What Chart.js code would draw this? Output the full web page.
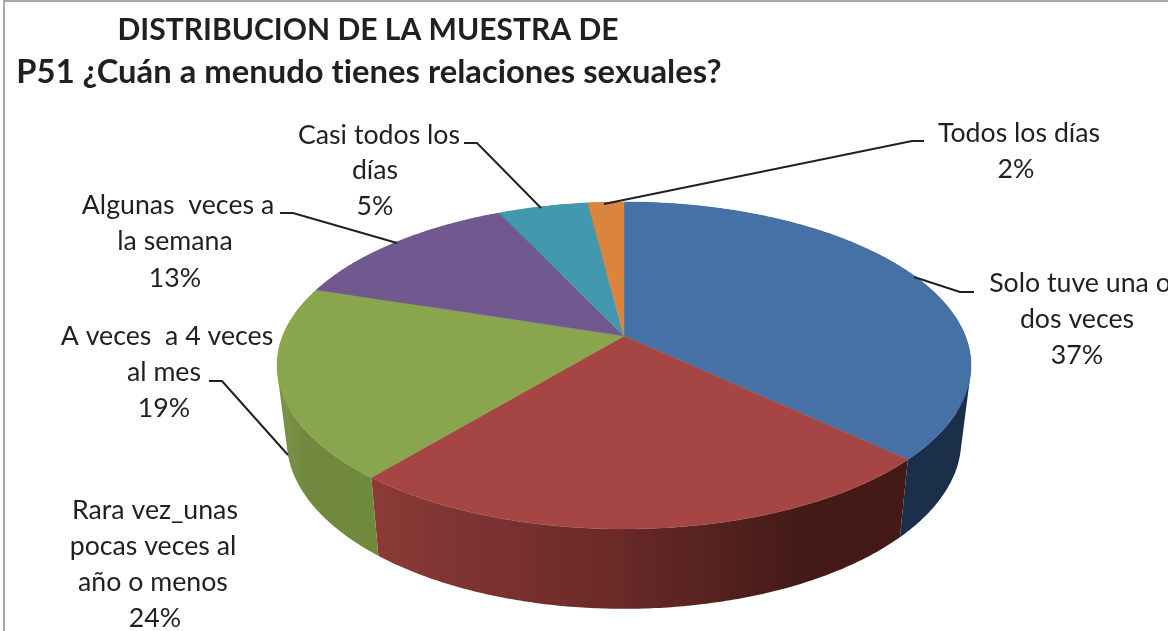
<!DOCTYPE html>
<html><head><meta charset="utf-8">
<style>html,body{margin:0;padding:0;background:#fff}#w{width:1168px;height:631px;position:relative;overflow:hidden}</style>
<script src="https://cdn.jsdelivr.net/npm/chart.js@4"></script>
</head><body><div id="w"><canvas id="c" width="1168" height="631"></canvas></div>
<script>
const categories=["Solo tuve una o dos veces","Rara vez_unas pocas veces al año o menos","A veces  a 4 veces al mes","Algunas  veces a la semana","Casi todos los días","Todos los días"];
const values=[37,24,19,13,5,2];
const titleLine="DISTRIBUCION DE LA MUESTRA DE";
const subtitleLine="P51 ¿Cuán a menudo tienes relaciones sexuales?";
const labelLines=[["Solo tuve una o","dos veces","37%"],["Rara vez_unas","pocas veces al","año o menos","24%"],["A veces  a 4 veces","al mes","19%"],["Algunas  veces a","la semana","13%"],["Casi todos los","días","5%"],["Todos los días","2%"]];
const topColors=["#4571a6","#a64644","#89a54e","#71588f","#4198af","#db843d"];
const wallStops=[[[0,"#1b2f4b"],[1,"#1b2f4b"]],[[0,"#8b3a37"],[0.45,"#6a2a28"],[0.8,"#431a17"],[1,"#431a17"]],[[0,"#7b9548"],[0.3,"#71893f"],[1,"#6f893d"]],[[0,"#5a4672"],[1,"#5a4672"]],[[0,"#347a8c"],[1,"#347a8c"]],[[0,"#b06a30"],[1,"#b06a30"]]];
// label layout: centre x of each line and the centre y of each line
const labelX=[[1080,1077,1077],[155,153,153,155],[167,164,164],[178,175,175],[379,375,375],[1019,1016]];
const labelY=[[283,319,355],[510,546,582,618],[336,372,408],[205,241,278],[135,170,206],[133,169]];
const leaders=[[[974,292],[960,292],[914,277]],[],[[209,381],[222,381],[288,455]],[[280,213],[293,213],[397,243]],[[464,143],[477,143],[541,208]],[[924,141],[912,141],[604,204]]];
// perspective of the tilted disc
const CX=624,CY=336,BX=341.3,AY=158.2,P=0.1804;
const DEPTH=74,BASEX=0.972,BASEY=1.03;
function proj(ang,base){
  const x=Math.cos(ang),y=Math.sin(ang),w=1-P*y;
  if(base) return [CX+BASEX*BX*x/w,CY+DEPTH+BASEY*AY*y/w];
  return [CX+BX*x/w,CY+AY*y/w];
}
function arcPts(a0,a1,base){
  const n=Math.max(4,Math.ceil((a1-a0)/0.01)),pts=[];
  for(let i=0;i<=n;i++) pts.push(proj(a0+(a1-a0)*i/n,base));
  return pts;
}
function addQuad(c,q){
  let area=0;
  for(let i=0;i<4;i++){const a=q[i],b=q[(i+1)%4];area+=a[0]*b[1]-b[0]*a[1];}
  if(area<0) q=q.slice().reverse();
  c.moveTo(q[0][0],q[0][1]); for(let i=1;i<4;i++) c.lineTo(q[i][0],q[i][1]); c.closePath();
}
const pie3d={
  id:'pie3d',
  afterLayout(chart){
    chart.boxes.forEach(b=>{
      if(b.options&&b.options.text===titleLine){b.left=0;b.right=736;b.top=9;}
      if(b.options&&b.options.text===subtitleLine){b.left=0;b.right=738;b.top=51;}
    });
  },
  beforeDraw(chart){
    const c=chart.ctx;
    c.letterSpacing="0.01px";
    c.save(); c.strokeStyle="#a8a8a8"; c.lineWidth=2;
    c.beginPath(); c.moveTo(4,631); c.lineTo(4,1); c.lineTo(1168,1); c.stroke(); c.restore();
  },
  beforeDatasetsDraw(chart){
    const c=chart.ctx,arcs=chart.getDatasetMeta(0).data;
    c.save();
    // walls: one path made of thin quads between the rim and the base of the slice
    arcs.forEach((arc,i)=>{
      const top=arcPts(arc.startAngle,arc.endAngle,false),bot=arcPts(arc.startAngle,arc.endAngle,true);
      const xs=top.concat(bot).map(p=>p[0]);
      const g=c.createLinearGradient(Math.min(...xs),0,Math.max(...xs),0);
      wallStops[i].forEach(s=>g.addColorStop(s[0],s[1]));
      c.fillStyle=g;
      c.beginPath();
      for(let k=0;k<top.length-1;k++) addQuad(c,[top[k],top[k+1],bot[k+1],bot[k]]);
      c.fill();
    });
    // top face
    arcs.forEach((arc,i)=>{
      const pts=arcPts(arc.startAngle,arc.endAngle,false);
      c.fillStyle=topColors[i]; c.strokeStyle=topColors[i]; c.lineWidth=0.4;
      c.beginPath(); c.moveTo(CX,CY); pts.forEach(p=>c.lineTo(p[0],p[1])); c.closePath(); c.fill(); c.stroke();
    });
    // leaders
    c.strokeStyle="#231f20"; c.lineWidth=2;
    leaders.forEach(l=>{ if(!l.length)return; c.beginPath(); l.forEach((p,k)=>k?c.lineTo(p[0],p[1]):c.moveTo(p[0],p[1])); c.stroke(); });
    // labels
    c.fillStyle="#231f20"; c.font="26.7px Lato"; c.textAlign="center"; c.textBaseline="middle";
    labelLines.forEach((ls,i)=>ls.forEach((t,k)=>c.fillText(t,labelX[i][k],labelY[i][k])));
    c.restore();
    return false;
  }
};
new Chart(document.getElementById('c'),{
  type:'pie',
  data:{labels:categories,datasets:[{data:values,backgroundColor:topColors,borderWidth:0}]},
  options:{responsive:false,animation:false,rotation:0,
    plugins:{legend:{display:false},tooltip:{enabled:false},
      title:{display:true,text:titleLine,color:"#231f20",padding:0,font:{family:"Lato",size:30,weight:"bold",lineHeight:42/30}},
      subtitle:{display:true,text:subtitleLine,color:"#231f20",padding:0,font:{family:"Lato",size:32.75,weight:"bold",lineHeight:42/32.75}}}},
  plugins:[pie3d]
});
</script></body></html>
